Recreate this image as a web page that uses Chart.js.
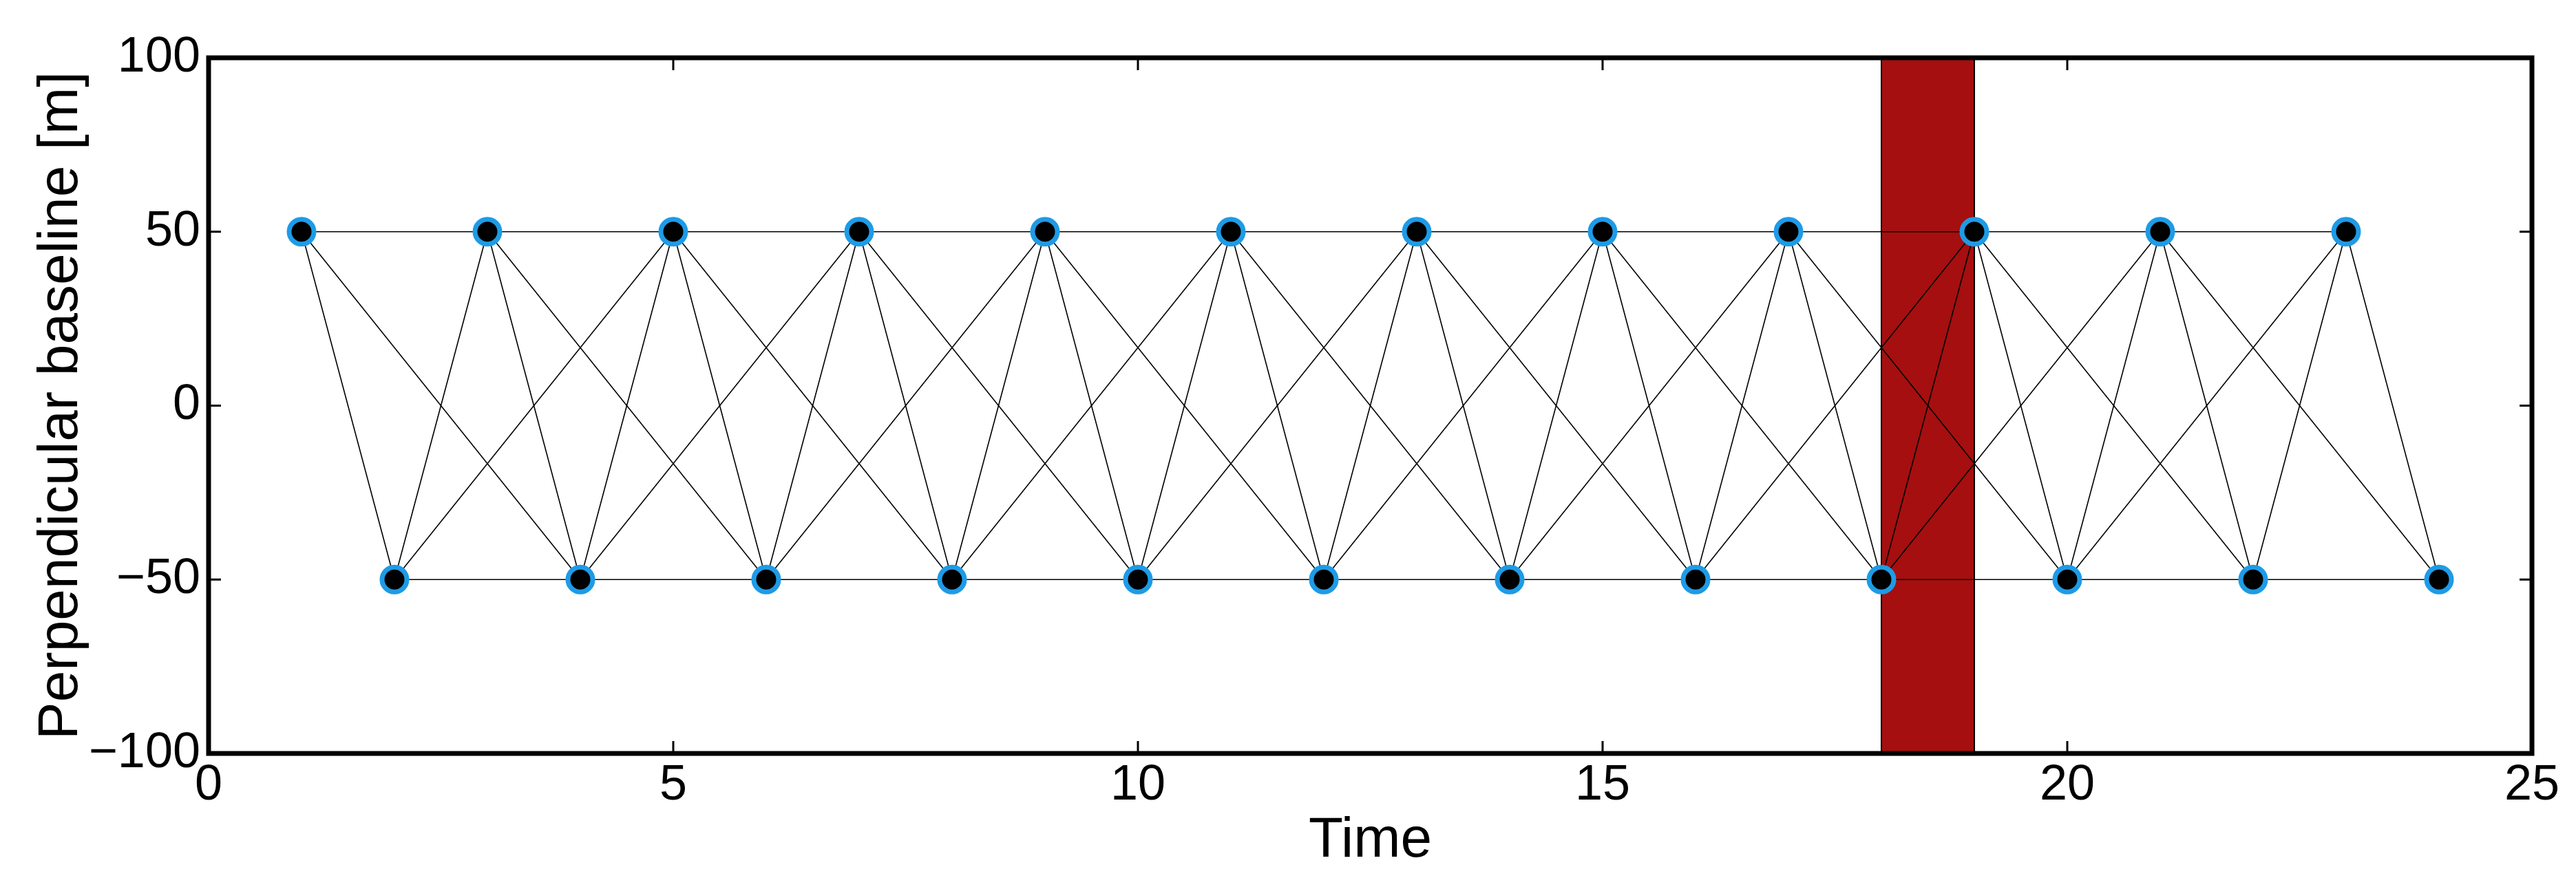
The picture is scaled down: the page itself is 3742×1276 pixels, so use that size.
<!DOCTYPE html>
<html><head><meta charset="utf-8">
<script src="https://cdn.jsdelivr.net/npm/chart.js@4/dist/chart.umd.min.js"></script>
<style>html,body{margin:0;padding:0;background:#fff}#w{width:3742px;height:1276px}</style>
</head><body><div id="w"><canvas id="c"></canvas></div>
<script>
const times = [1,2,3,4,5,6,7,8,9,10,11,12,13,14,15,16,17,18,19,20,21,22,23,24];
const baselines = [50,-50,50,-50,50,-50,50,-50,50,-50,50,-50,50,-50,50,-50,50,-50,50,-50,50,-50,50,-50];
// edges between acquisition indices (times)
const edges = [
 [1,2],[1,3],[1,4],[2,3],[2,4],[2,5],[3,4],[3,5],[3,6],[4,5],[4,6],[4,7],
 [5,6],[5,7],[5,8],[6,7],[6,8],[6,9],[7,8],[7,9],[7,10],[8,9],[8,10],[8,11],
 [9,10],[9,11],[9,12],[10,11],[10,12],[10,13],[11,12],[11,13],[11,14],[12,13],[12,14],[12,15],
 [13,14],[13,15],[13,16],[14,15],[14,16],[14,17],[15,16],[15,17],[15,18],[16,17],[16,18],[16,19],
 [17,18],[17,19],[17,20],[18,19],[18,20],[18,21],[19,20],[19,21],[19,22],[20,21],[20,22],[20,23],
 [21,22],[21,23],[21,24],[22,23],[22,24],[23,24]
];
const band = [18,19];
const xTicks = [0,5,10,15,20,25];
const yTicks = [-100,-50,0,50,100];

const bv = t => baselines[times.indexOf(t)];
const datasets = edges.map(e => ({
  type:'line', data:[{x:e[0],y:bv(e[0])},{x:e[1],y:bv(e[1])}],
  borderColor:'#000', borderWidth:1.6, pointRadius:0, fill:false, order:2
}));
datasets.push({type:'scatter', data:times.map((t,i)=>({x:t,y:baselines[i]})),
  pointRadius:18, pointBorderWidth:7, pointBackgroundColor:'#000', pointBorderColor:'#1e9be6', order:0});

const FONT = '"Liberation Sans", Arial, sans-serif';
const fmt = v => (v<0?'\u2212'+Math.abs(v):String(v));

const deco = {
  id:'deco',
  beforeDatasetsDraw(ch){
    const {ctx, chartArea:a, scales:{x}} = ch;
    const x0=x.getPixelForValue(band[0]), x1=x.getPixelForValue(band[1]);
    ctx.save();
    ctx.fillStyle='#a50f0f'; ctx.fillRect(x0,a.top,x1-x0,a.bottom-a.top);
    ctx.strokeStyle='#000'; ctx.lineWidth=2; ctx.strokeRect(x0,a.top,x1-x0,a.bottom-a.top);
    ctx.restore();
  },
  afterDraw(ch){
    const {ctx, chartArea:a, scales:{x,y}} = ch;
    ctx.save();
    ctx.strokeStyle='#000'; ctx.lineWidth=3;
    const L=18;
    xTicks.forEach(v=>{const p=x.getPixelForValue(v);
      ctx.beginPath();ctx.moveTo(p,a.bottom);ctx.lineTo(p,a.bottom-L);ctx.moveTo(p,a.top);ctx.lineTo(p,a.top+L);ctx.stroke();});
    yTicks.forEach(v=>{const p=y.getPixelForValue(v);
      ctx.beginPath();ctx.moveTo(a.left,p);ctx.lineTo(a.left+L,p);ctx.moveTo(a.right,p);ctx.lineTo(a.right-L,p);ctx.stroke();});
    ctx.lineWidth=7; ctx.strokeRect(a.left,a.top,a.right-a.left,a.bottom-a.top);
    ctx.restore();
  }
};

new Chart(document.getElementById('c'), {
  type:'scatter',
  data:{datasets},
  options:{
    responsive:true, maintainAspectRatio:false, animation:false,
    layout:{padding:{top:84,right:64,left:0,bottom:0}},
    plugins:{legend:{display:false},tooltip:{enabled:false}},
    scales:{
      x:{type:'linear',min:0,max:25,
        afterBuildTicks:s=>{s.ticks=xTicks.map(v=>({value:v}));},
        afterFit:s=>{s.height=181;},
        grid:{display:false,drawTicks:false}, border:{display:false},
        ticks:{color:'#000',font:{family:FONT,size:72},padding:4,maxRotation:0,callback:fmt},
        title:{display:true,text:'Time',color:'#000',font:{family:FONT,size:82},padding:{top:0}}},
      y:{type:'linear',min:-100,max:100,
        afterBuildTicks:s=>{s.ticks=yTicks.map(v=>({value:v}));},
        afterFit:s=>{s.width=303;},
        grid:{display:false,drawTicks:false}, border:{display:false},
        ticks:{color:'#000',font:{family:FONT,size:72},padding:12,callback:fmt},
        title:{display:true,text:'Perpendicular baseline [m]',color:'#000',font:{family:FONT,size:82},padding:{top:40,bottom:10}}}
    }
  },
  plugins:[deco]
});
</script></body></html>
